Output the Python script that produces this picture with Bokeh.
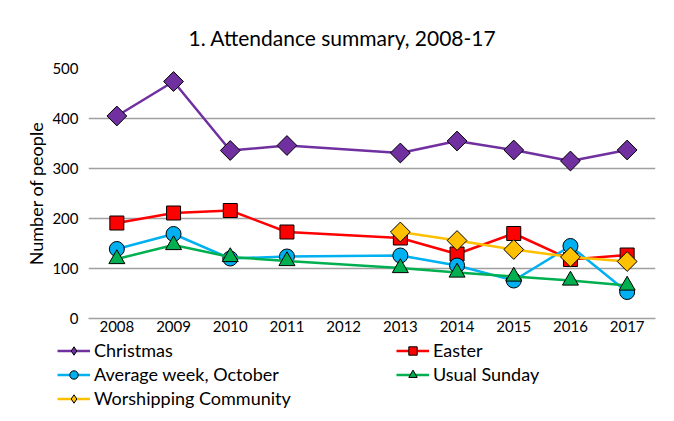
import math
from bokeh.plotting import figure
from bokeh.models import Legend, LegendItem, Range1d, FactorRange
from bokeh.layouts import column
from bokeh.embed import file_html
from bokeh.resources import INLINE

years = ["2008", "2009", "2010", "2011", "2012", "2013", "2014", "2015", "2016", "2017"]

# 2012 has no data (lines join 2011 to 2013)
main_years = ["2008", "2009", "2010", "2011", "2013", "2014", "2015", "2016", "2017"]
christmas = [405, 474, 336, 346, 331, 355, 337, 315, 337]
easter = [191, 211, 216, 173, 161, 129, 170, 118, 127]
average_week = [139, 169, 120, 124, 126, 106, 76, 145, 53]
usual_sunday = [119, 147, 123, 115, 101, 92, 84, 76, 66]

wc_years = ["2013", "2014", "2015", "2016", "2017"]
worshipping = [173, 156, 138, 123, 114]

y_ticks = [0, 100, 200, 300, 400, 500]

FONT = "Lato"

p = figure(width=666, height=338, x_range=FactorRange(*years), y_range=Range1d(0, 500),
           output_backend="svg", toolbar_location=None,
           min_border_left=88, min_border_right=11, min_border_top=68, min_border_bottom=20)
p.background_fill_color = "white"
p.border_fill_color = "white"
p.outline_line_color = None

p.title.text = "1. Attendance summary, 2008-17"
p.title.align = "left"
p.title.offset = 100
p.title.standoff = 37
p.title.text_font = FONT
p.title.text_font_size = "21px"
p.title.text_font_style = "normal"
p.title.text_color = "black"

p.xgrid.grid_line_color = None
p.ygrid.grid_line_color = "#A0A0A0"
p.ygrid.grid_line_width = 1.5
p.yaxis.ticker = y_ticks
p.yaxis.axis_line_color = None
p.yaxis.major_tick_line_color = None
p.yaxis.major_tick_out = 0
p.yaxis.minor_tick_line_color = None
p.yaxis.minor_tick_out = 0
p.yaxis.major_label_standoff = 10
p.yaxis.major_label_text_font = FONT
p.yaxis.major_label_text_font_size = "15px"
p.yaxis.major_label_text_color = "black"
p.yaxis.axis_label = "Number of people"
p.yaxis.axis_label_text_font = FONT
p.yaxis.axis_label_text_font_style = "normal"
p.yaxis.axis_label_text_font_size = "18px"
p.yaxis.axis_label_text_color = "black"
p.yaxis.axis_label_standoff = 2

p.xaxis.axis_line_color = "#A0A0A0"
p.xaxis.axis_line_width = 1.5
p.xaxis.major_tick_line_color = None
p.xaxis.major_tick_out = 0
p.xaxis.minor_tick_line_color = None
p.xaxis.minor_tick_out = 0
p.xaxis.major_label_standoff = 2
p.xaxis.major_label_text_font = FONT
p.xaxis.major_label_text_font_size = "15px"
p.xaxis.major_label_text_color = "black"

series = [
    ("Christmas", main_years, christmas, "#7030A0", "diamond"),
    ("Easter", main_years, easter, "#FF0000", "square"),
    ("Average week, October", main_years, average_week, "#00B0F0", "circle"),
    ("Usual Sunday", main_years, usual_sunday, "#00B050", "triangle"),
    ("Worshipping Community", wc_years, worshipping, "#FFC000", "diamond"),
]

# legend panel (separate canvas so the legend is not clipped by the plot frame);
# its y range lies far above the data, so its copies of the series stay out of view
leg = figure(frame_width=666, frame_height=75, output_backend="svg", toolbar_location=None,
             x_range=FactorRange(*years), y_range=Range1d(5000, 5001),
             x_axis_type=None, y_axis_type=None,
             min_border_left=0, min_border_right=0, min_border_top=0, min_border_bottom=0)
leg.outline_line_color = None
leg.xgrid.grid_line_color = None
leg.ygrid.grid_line_color = None
leg.background_fill_color = "white"
leg.border_fill_color = "white"


def add_marker(fig, xs, ys, color, marker):
    if marker == "diamond":
        return fig.scatter(xs, ys, marker="square", size=14, angle=math.pi / 4,
                           fill_color=color, line_color="black", line_width=1)
    if marker == "square":
        return fig.scatter(xs, ys, marker="square", size=14, fill_color=color,
                           line_color="black", line_width=1)
    if marker == "circle":
        return fig.scatter(xs, ys, marker="circle", size=15, fill_color=color,
                           line_color="black", line_width=1)
    return fig.scatter(xs, ys, marker="triangle", size=16, fill_color=color,
                       line_color="black", line_width=1)


def add_swatch(fig, xs, ys, color, marker):
    if marker == "diamond":
        return fig.scatter(xs, ys, marker="diamond", size=13,
                           fill_color=color, line_color="black", line_width=1)
    if marker == "square":
        return fig.scatter(xs, ys, marker="square", size=9, fill_color=color,
                           line_color="black", line_width=1)
    if marker == "circle":
        return fig.scatter(xs, ys, marker="circle", size=10, fill_color=color,
                           line_color="black", line_width=1)
    return fig.scatter(xs, ys, marker="triangle", size=11, fill_color=color,
                       line_color="black", line_width=1)


items = {}
for name, xs, ys, color, marker in series:
    p.line(xs, ys, line_color=color, line_width=2.5)
    add_marker(p, xs, ys, color, marker)
    lln = leg.line(xs, ys, line_color=color, line_width=2.5)
    lsc = add_swatch(leg, xs, ys, color, marker)
    items[name] = LegendItem(label=name, renderers=[lln, lsc])

order = ["Christmas", "Average week, October", "Worshipping Community", "Easter", "Usual Sunday"]
legend = Legend(items=[items[k] for k in order], location=(57, 4),
                orientation="vertical", nrows=3,
                glyph_width=33, glyph_height=21, label_height=21, label_standoff=4,
                label_width=300, spacing=2, padding=0, margin=0,
                label_text_font=FONT, label_text_font_size="18px", label_text_color="black",
                border_line_color=None, background_fill_alpha=0)
leg.add_layout(legend, "center")

layout = column(p, leg, spacing=0)
open("out.html", "w").write(file_html(layout, INLINE))
